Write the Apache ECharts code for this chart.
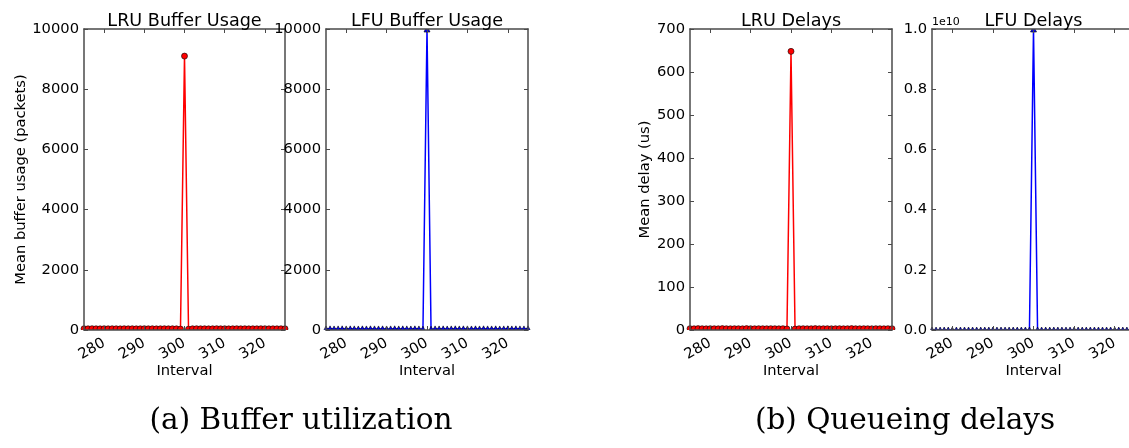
<!DOCTYPE html>
<html>
<head>
<meta charset="utf-8">
<script src="https://cdn.jsdelivr.net/npm/echarts@6/dist/echarts.min.js"></script>
<style>
  html, body { margin: 0; padding: 0; background: #ffffff; }
  #chart { width: 1129px; height: 448px; }
</style>
</head>
<body>
<div id="chart"></div>
<script>
// Measurement intervals (x values shared by all four panels)
const intervals = [
  275, 276, 277, 278, 279, 280, 281, 282, 283, 284,
  285, 286, 287, 288, 289, 290, 291, 292, 293, 294,
  295, 296, 297, 298, 299, 300, 301, 302, 303, 304,
  305, 306, 307, 308, 309, 310, 311, 312, 313, 314,
  315, 316, 317, 318, 319, 320, 321, 322, 323, 324, 325
];

// Tick labels
const intervalTicks = [280, 290, 300, 310, 320];
const bufferTicks = [0, 2000, 4000, 6000, 8000, 10000];
const lruDelayTicks = [0, 100, 200, 300, 400, 500, 600, 700];
const lfuDelayTicks = [0, 2e9, 4e9, 6e9, 8e9, 1e10];

// Mean buffer usage (packets)
const lruBuffer = [
  42, 40, 44, 41, 39, 43, 40, 42, 41, 38,
  43, 40, 42, 39, 41, 44, 40, 42, 38, 41,
  43, 40, 42, 39, 30, 9100, 28, 41, 43, 40,
  42, 39, 41, 44, 40, 42, 38, 41, 43, 40,
  42, 39, 41, 40, 43, 42, 39, 41, 40, 42, 41
];
const lfuBuffer = [
  36, 38, 35, 37, 39, 36, 38, 37, 35, 38,
  36, 39, 37, 36, 38, 35, 37, 39, 36, 38,
  37, 35, 38, 36, 27, 10000, 25, 37, 36, 38,
  35, 37, 39, 36, 38, 37, 35, 38, 36, 39,
  37, 36, 38, 35, 37, 39, 36, 38, 37, 36, 38
];

// Mean queueing delay (us)
const lruDelay = [
  3.1, 2.9, 3.2, 3.0, 2.8, 3.1, 3.0, 2.9, 3.2, 3.0,
  2.9, 3.1, 3.0, 2.8, 3.2, 3.0, 2.9, 3.1, 3.0, 2.9,
  3.1, 3.0, 2.8, 3.1, 2.4, 648, 2.3, 3.0, 3.1, 2.9,
  3.0, 3.2, 2.9, 3.0, 3.1, 2.8, 3.0, 3.1, 2.9, 3.0,
  3.2, 3.0, 2.9, 3.1, 3.0, 2.8, 3.1, 3.0, 2.9, 3.1, 3.0
];
const lfuDelay = [
  2.7, 2.6, 2.8, 2.7, 2.5, 2.8, 2.6, 2.7, 2.9, 2.6,
  2.7, 2.8, 2.6, 2.7, 2.5, 2.8, 2.7, 2.6, 2.8, 2.7,
  2.6, 2.8, 2.7, 2.6, 2.1, 1e10, 2.0, 2.7, 2.8, 2.6,
  2.7, 2.5, 2.8, 2.7, 2.6, 2.8, 2.7, 2.6, 2.7, 2.8,
  2.6, 2.7, 2.5, 2.8, 2.7, 2.6, 2.8, 2.7, 2.6, 2.7, 2.8
];

const FONT = 'DejaVu Sans';
const SPINE = '#4a4a4a';

const panels = [
  { title: 'LRU Buffer Usage', values: lruBuffer, color: '#ff0000', symbol: 'circle',
    yMax: 10000, yTicks: bufferTicks, yName: 'Mean buffer usage (packets)', nameGap: 55,
    fmt: v => String(v), left: 84, width: 201 },
  { title: 'LFU Buffer Usage', values: lfuBuffer, color: '#0000ff', symbol: 'triangle',
    yMax: 10000, yTicks: bufferTicks, yName: '', nameGap: 0,
    fmt: v => String(v), left: 326, width: 202 },
  { title: 'LRU Delays', values: lruDelay, color: '#ff0000', symbol: 'circle',
    yMax: 700, yTicks: lruDelayTicks, yName: 'Mean delay (us)', nameGap: 37,
    fmt: v => String(v), left: 690, width: 202 },
  { title: 'LFU Delays', values: lfuDelay, color: '#0000ff', symbol: 'triangle',
    yMax: 1e10, yTicks: lfuDelayTicks, yName: '', nameGap: 0,
    fmt: v => (v / 1e10).toFixed(1), left: 932, width: 203 }
];

const TOP = 29, HEIGHT = 301;
const labelStyle = { color: '#000', fontFamily: FONT, fontSize: 14.7 };

const grids = [], xAxes = [], yAxes = [], series = [], titles = [], masks = [];

panels.forEach((p, i) => {
  grids.push({ left: p.left, top: TOP, width: p.width, height: HEIGHT,
               containLabel: false, outerBoundsMode: 'none' });

  const xBase = {
    type: 'value', gridIndex: i, min: 275, max: 325, z: 4,
    splitLine: { show: false },
    axisLine: { show: true, onZero: false, lineStyle: { color: SPINE, width: 1.5 } },
    axisTick: { show: true, inside: true, length: 4, customValues: intervalTicks,
                lineStyle: { color: SPINE, width: 1 } }
  };
  xAxes.push(Object.assign({}, xBase, {
    position: 'bottom',
    name: 'Interval', nameLocation: 'middle', nameGap: 34, nameMoveOverlap: false,
    nameTextStyle: { color: '#000', fontFamily: FONT, fontSize: 14.7 },
    axisLabel: Object.assign({ show: true, rotate: 30, margin: 12,
                               customValues: intervalTicks }, labelStyle)
  }));
  xAxes.push(Object.assign({}, xBase, { position: 'top', axisLabel: { show: false } }));

  const yBase = {
    type: 'value', gridIndex: i, min: 0, max: p.yMax, z: 4,
    splitLine: { show: false },
    axisLine: { show: true, onZero: false, lineStyle: { color: SPINE, width: 1.5 } },
    axisTick: { show: true, inside: true, length: 4, customValues: p.yTicks,
                lineStyle: { color: SPINE, width: 1 } }
  };
  yAxes.push(Object.assign({}, yBase, {
    position: 'left',
    name: p.yName, nameLocation: 'middle', nameGap: p.nameGap, nameRotate: 90,
    nameMoveOverlap: false,
    nameTextStyle: { color: '#000', fontFamily: FONT, fontSize: 14.7 },
    axisLabel: Object.assign({ show: true, margin: 5, customValues: p.yTicks,
                               formatter: p.fmt }, labelStyle)
  }));
  yAxes.push(Object.assign({}, yBase, { position: 'right', axisLabel: { show: false } }));

  series.push({
    type: 'line', xAxisIndex: 2 * i, yAxisIndex: 2 * i, z: 2,
    data: intervals.map((x, k) => [x, p.values[k]]),
    symbol: p.symbol, symbolSize: 6, showSymbol: true, clip: true,
    lineStyle: { color: p.color, width: 1.5 },
    itemStyle: { color: p.color, borderColor: '#000', borderWidth: 0.6 },
    emphasis: { disabled: true }
  });

  // markers are clipped at the plot frame: white bands just outside the frame
  masks.push({ type: 'rect', z: 3, silent: true,
    shape: { x: p.left - 4, y: TOP + HEIGHT, width: p.width + 8, height: 5 },
    style: { fill: '#ffffff' } });
  masks.push({ type: 'rect', z: 3, silent: true,
    shape: { x: p.left - 4, y: TOP - 5, width: p.width + 8, height: 5 },
    style: { fill: '#ffffff' } });

  titles.push({
    text: p.title, left: p.left + p.width / 2, top: 12.5, textAlign: 'center', padding: 0, z: 6,
    textStyle: { color: '#000', fontFamily: FONT, fontSize: 17.6, fontWeight: 'normal' }
  });
});

const chart = echarts.init(document.getElementById('chart'), null, { renderer: 'canvas' });
chart.setOption({
  animation: false,
  backgroundColor: '#ffffff',
  title: titles,
  grid: grids,
  xAxis: xAxes,
  yAxis: yAxes,
  series: series,
  graphic: masks.concat([
    { type: 'text', x: 932, y: 22, z: 6,
      style: { text: '1e10', fill: '#000', font: '11px "DejaVu Sans"', align: 'left', verticalAlign: 'middle' } },
    { type: 'text', x: 301, y: 421,
      style: { text: '(a) Buffer utilization', fill: '#000', font: '29.5px "DejaVu Serif"', align: 'center', verticalAlign: 'middle' } },
    { type: 'text', x: 905, y: 421,
      style: { text: '(b) Queueing delays', fill: '#000', font: '29.5px "DejaVu Serif"', align: 'center', verticalAlign: 'middle' } }
  ])
});
</script>
</body>
</html>
